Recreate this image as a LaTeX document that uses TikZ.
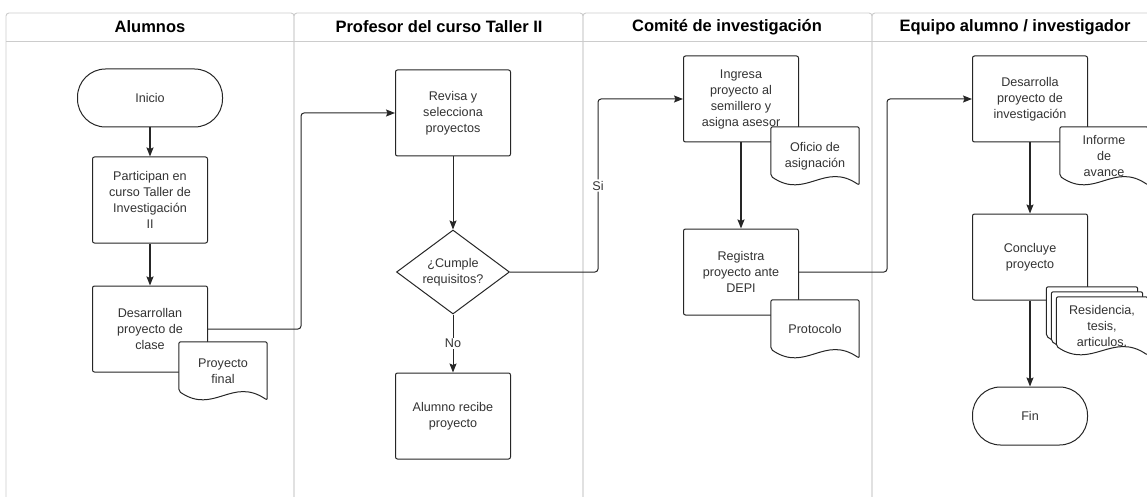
\documentclass[tikz,border=0pt]{standalone}
\usepackage{fontspec}
\setmainfont{Liberation Sans}
\usepackage{tikz}
\usetikzlibrary{shapes.geometric,arrows.meta,calc}
\pgfdeclarelayer{docback}
\pgfdeclarelayer{docfront}
\pgfsetlayers{main,docback,docfront}

% outline of a document sheet round node #2, moved up-left by #1 pt
\newcommand{\docshape}[2][0]{%
  \draw[docline] ([shift={(-#1pt,#1pt)}]#2.south east)
    .. controls +(-35pt,24pt) and +(35pt,-24pt) .. ([shift={(-#1pt,#1pt+9pt)}]#2.south west)
    -- ([shift={(-#1pt,#1pt)}]#2.north west)
    -- ([shift={(-#1pt,#1pt)}]#2.north east) -- cycle;}

\begin{document}
\begin{tikzpicture}[x=1pt,y=-1pt,
  lane/.style={draw=black!20,line width=0.9pt,rounded corners=3pt},
  header/.style={font=\fontsize{16.5}{20}\selectfont\bfseries},
  process/.style={draw=black!85,line width=1pt,rounded corners=2pt,fill=white,
                  minimum width=115pt,minimum height=86pt,inner sep=2pt,
                  align=center,font=\fontsize{12.6}{16}\selectfont,text=black!80},
  terminal/.style={process,rounded corners=28pt,minimum height=58pt},
  decision/.style={diamond,aspect=1.35,draw=black!85,line width=1pt,fill=white,
                   minimum width=113pt,minimum height=84pt,inner sep=0pt,
                   align=center,font=\fontsize{12.6}{16}\selectfont,text=black!80},
  doc/.style={minimum width=88pt,minimum height=58pt,inner sep=1pt,align=center,
              font=\fontsize{12.6}{16}\selectfont,text=black!80},
  docline/.style={draw=black!85,line width=1pt,fill=white,rounded corners=2pt},
  flow/.style={draw=black!85,line width=1pt,-{Stealth[length=9pt,width=7pt,inset=1.5pt]}},
  flowlabel/.style={fill=white,inner sep=1.5pt,font=\fontsize{12.6}{14}\selectfont,text=black!80}
]
\useasboundingbox (0,0) rectangle (1147,497);

% lanes
\foreach \xa/\xb in {6/294,294/583,583/872,872/1161}{
  \draw[lane] (\xa,520) |- (\xb,13) -- (\xb,520);
  \draw[lane] (\xa,41) -- (\xb,41);
}
\node[header] (hAlumnos) at (150,27) {Alumnos};
\node[header] (hProfesor) at (439,27) {Profesor del curso Taller II};
\node[header] (hComite) at (727,27) {Comité de investigación};
\node[header] (hEquipo) at (1015,27) {Equipo alumno / investigador};

% steps
\node[terminal,minimum width=145pt] (inicio) at (150,98) {Inicio};
\node[process] (participan) at (150,200) {Participan en\\curso Taller de\\Investigación\\II};
\node[process] (desarrollan) at (150,329) {Desarrollan\\proyecto de\\clase};
\node[process] (revisa) at (453,113) {Revisa y\\selecciona\\proyectos};
\node[decision] (cumple) at (453,272) {¿Cumple\\requisitos?};
\node[process] (recibe) at (453,416) {Alumno recibe\\proyecto};
\node[process] (ingresa) at (741,99) {Ingresa\\proyecto al\\semillero y\\asigna asesor};
\node[process] (registra) at (741,272) {Registra\\proyecto ante\\DEPI};
\node[process] (desarrolla) at (1030,99) {Desarrolla\\proyecto de\\investigación};
\node[process] (concluye) at (1030,257) {Concluye\\proyecto};
\node[terminal] (fin) at (1030,416) {Fin};

% documents
\begin{pgfonlayer}{docfront}
\node[doc] (pfinal) at (223,371) {Proyecto\\final};
\node[doc] (oficio) at (815,156) {Oficio de\\asignación};
\node[doc] (protocolo) at (815,329) {Protocolo};
\node[doc] (informe) at (1104,156) {Informe\\de\\avance};
\node[doc,minimum width=91pt] (residencia) at (1102,326) {Residencia,\\tesis,\\articulos.};
\end{pgfonlayer}
\begin{pgfonlayer}{docback}
\docshape{pfinal}
\docshape{oficio}
\docshape{protocolo}
\docshape{informe}
\docshape[10]{residencia}
\docshape[5]{residencia}
\docshape{residencia}
\end{pgfonlayer}

% connectors
\draw[flow,line width=1.6pt] (inicio) -- (participan);
\draw[flow,line width=1.6pt] (participan) -- (desarrollan);
\draw[flow,rounded corners=3pt] (desarrollan.east) -- ++(93,0) |- (revisa.west);
\draw[flow] (revisa) -- (cumple);
\draw[flow] (cumple) -- node[flowlabel] {No} (recibe);
\draw[flow,rounded corners=3pt] (cumple.east) -- ++(88,0) |- node[flowlabel,pos=0.25] {Si} (ingresa.west);
\draw[flow,line width=1.6pt] (ingresa) -- (registra);
\draw[flow,rounded corners=3pt] (registra.east) -- ++(88,0) |- (desarrolla.west);
\draw[flow,line width=1.3pt] (desarrolla) -- (concluye);
\draw[flow,line width=1.3pt] (concluye) -- (fin);
\end{tikzpicture}
\end{document}
